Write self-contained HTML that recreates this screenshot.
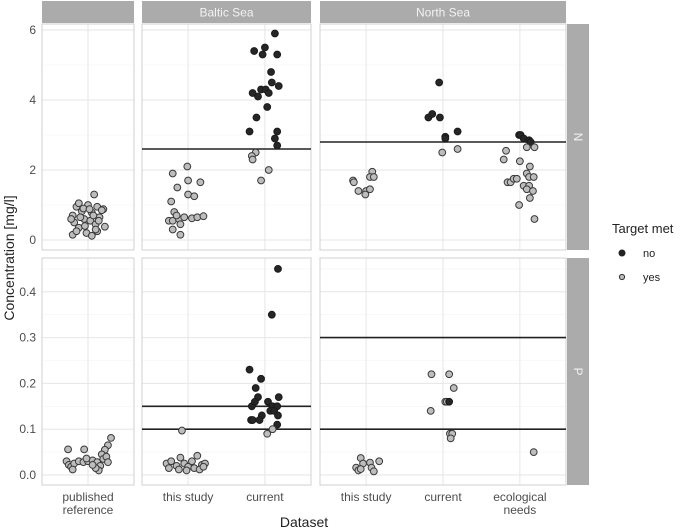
<!DOCTYPE html>
<html><head><meta charset="utf-8"><style>
body{margin:0;background:#fff;}
svg{display:block;font-family:"Liberation Sans",sans-serif;}
</style></head><body>
<svg id="chart" width="685" height="532" viewBox="0 0 685 532" xmlns="http://www.w3.org/2000/svg">
<rect width="685" height="532" fill="#fff"/>
<g id="panels"></g>
<g id="points"></g>
<text transform="translate(14,258) rotate(-90)" text-anchor="middle" font-size="14" fill="#222">Concentration [mg/l]</text>
<text x="304" y="527" text-anchor="middle" font-size="14" fill="#222">Dataset</text>
<g>
<text x="612" y="233" font-size="13" fill="#222">Target met</text>
<circle cx="622" cy="253" r="3" fill="#222" stroke="#222"/>
<text x="643" y="257" font-size="11" fill="#222">no</text>
<circle cx="622" cy="277" r="2.6" fill="#bbb" stroke="#333"/>
<text x="643" y="281" font-size="11" fill="#222">yes</text>
</g>
</svg>
<script>
// ---- data ----
const columns = ["", "Baltic Sea", "North Sea"];
const categories = [["published\nreference"], ["this study","current"], ["this study","current","ecological\nneeds"]];
const nTicks = [0,2,4,6];
const pTicks = [0,0.1,0.2,0.3,0.4];
const nTickLabels = ["0","2","4","6"];
const pTickLabels = ["0.0","0.1","0.2","0.3","0.4"];
const nTargets = [[], [2.6], [2.8]];
const pTargets = [[], [0.15,0.10], [0.30,0.10]];
// points: [column, category index, jitter (category units), value, met(1=no/black,0=yes)]
const nPoints = [
[0,0,0.08,1.3,0],[0,0,-0.15,0.95,0],[0,0,-0.12,1.05,0],[0,0,0.0,1.0,0],[0,0,0.12,0.95,0],[0,0,0.2,0.88,0],
[0,0,-0.2,0.7,0],[0,0,-0.08,0.82,0],[0,0,0.05,0.78,0],[0,0,0.15,0.65,0],[0,0,-0.18,0.5,0],[0,0,-0.05,0.6,0],
[0,0,0.03,0.55,0],[0,0,0.1,0.45,0],[0,0,-0.12,0.35,0],[0,0,-0.2,0.15,0],[0,0,-0.02,0.2,0],[0,0,0.12,0.25,0],
[0,0,0.22,0.38,0],[0,0,-0.1,0.65,0],[0,0,0.07,0.7,0],[0,0,-0.15,0.25,0],[0,0,0.05,0.12,0],[0,0,0.18,0.85,0],
[0,0,-0.06,0.9,0],[0,0,0.02,0.88,0],[0,0,0.14,0.55,0],[0,0,-0.22,0.6,0],[0,0,0.1,0.3,0],[0,0,-0.04,0.4,0],
[1,0,-0.2,1.9,0],[1,0,-0.01,2.1,0],[1,0,-0.14,1.5,0],[1,0,0.0,1.7,0],[1,0,0.16,1.65,0],[1,0,0.0,1.3,0],[1,0,0.08,1.25,0],
[1,0,-0.22,1.1,0],[1,0,-0.18,0.8,0],[1,0,-0.25,0.55,0],[1,0,-0.2,0.55,0],[1,0,-0.12,0.6,0],[1,0,-0.05,0.65,0],
[1,0,0.05,0.62,0],[1,0,0.12,0.65,0],[1,0,0.2,0.68,0],[1,0,-0.15,0.7,0],[1,0,-0.1,0.15,0],[1,0,-0.2,0.3,0],[1,0,-0.1,0.45,0],
[1,1,0.13,5.9,1],[1,1,-0.14,5.4,1],[1,1,0.0,5.5,1],[1,1,-0.03,5.3,1],[1,1,0.16,5.3,1],[1,1,0.08,4.8,1],[1,1,0.09,4.5,1],
[1,1,0.18,4.4,1],[1,1,-0.16,4.2,1],[1,1,-0.09,4.1,1],[1,1,-0.05,4.3,1],[1,1,0.01,4.3,1],[1,1,0.05,4.2,1],[1,1,0.03,3.8,1],
[1,1,-0.11,3.5,1],[1,1,-0.2,3.1,1],[1,1,0.16,3.1,1],[1,1,0.13,2.9,1],[1,1,0.16,2.7,1],
[1,1,-0.12,2.5,0],[1,1,-0.17,2.4,0],[1,1,-0.16,2.3,0],[1,1,0.05,2.0,0],[1,1,-0.05,1.7,0],
[2,0,-0.17,1.7,0],[2,0,-0.16,1.65,0],[2,0,0.08,1.95,0],[2,0,0.05,1.8,0],[2,0,0.1,1.8,0],[2,0,-0.1,1.4,0],[2,0,0.0,1.4,0],[2,0,0.05,1.45,0],[2,0,-0.01,1.3,0],
[2,1,-0.05,4.5,1],[2,1,-0.19,3.5,1],[2,1,-0.14,3.6,1],[2,1,-0.04,3.5,1],[2,1,0.03,2.95,1],[2,1,0.03,2.9,1],[2,1,0.19,3.1,1],
[2,1,-0.01,2.5,0],[2,1,0.19,2.6,0],
[2,2,-0.01,3.0,1],[2,2,0.01,3.0,1],[2,2,0.05,2.9,1],[2,2,0.12,2.85,1],[2,2,0.14,2.8,1],
[2,2,0.09,2.65,0],[2,2,0.19,2.65,0],[2,2,-0.18,2.55,0],[2,2,-0.21,2.3,0],[2,2,0.0,2.25,0],[2,2,0.13,2.1,0],[2,2,0.09,1.9,0],
[2,2,0.12,1.8,0],[2,2,0.18,1.8,0],[2,2,-0.16,1.65,0],[2,2,-0.12,1.65,0],[2,2,-0.08,1.75,0],[2,2,-0.04,1.75,0],
[2,2,0.05,1.55,0],[2,2,0.12,1.55,0],[2,2,0.09,1.45,0],[2,2,0.17,1.4,0],[2,2,0.13,1.2,0],[2,2,-0.01,1.0,0],[2,2,0.19,0.6,0]
];
const pPoints = [
[0,0,-0.26,0.056,0],[0,0,-0.05,0.056,0],[0,0,0.3,0.081,0],[0,0,0.26,0.065,0],[0,0,0.22,0.055,0],[0,0,0.18,0.045,0],
[0,0,-0.28,0.03,0],[0,0,-0.25,0.022,0],[0,0,-0.22,0.018,0],[0,0,-0.18,0.025,0],[0,0,-0.12,0.03,0],[0,0,-0.06,0.028,0],
[0,0,0.0,0.03,0],[0,0,0.06,0.032,0],[0,0,0.12,0.028,0],[0,0,0.16,0.02,0],[0,0,0.2,0.035,0],[0,0,0.24,0.04,0],
[0,0,0.14,0.01,0],[0,0,0.1,0.015,0],[0,0,-0.2,0.012,0],[0,0,0.06,0.022,0],[0,0,-0.02,0.036,0],[0,0,0.26,0.028,0],
[1,0,-0.08,0.097,0],[1,0,-0.28,0.025,0],[1,0,-0.22,0.03,0],[1,0,-0.15,0.02,0],[1,0,-0.1,0.038,0],[1,0,-0.05,0.025,0],
[1,0,0.0,0.018,0],[1,0,0.05,0.03,0],[1,0,0.12,0.042,0],[1,0,0.18,0.022,0],[1,0,0.22,0.025,0],[1,0,-0.25,0.015,0],
[1,0,-0.12,0.012,0],[1,0,-0.02,0.01,0],[1,0,0.08,0.015,0],[1,0,0.15,0.012,0],[1,0,0.2,0.018,0],
[1,1,0.17,0.45,1],[1,1,0.09,0.35,1],[1,1,-0.2,0.23,1],[1,1,-0.05,0.21,1],[1,1,-0.12,0.19,1],[1,1,-0.09,0.17,1],[1,1,0.18,0.17,1],
[1,1,-0.17,0.15,1],[1,1,-0.13,0.16,1],[1,1,0.04,0.16,1],[1,1,0.1,0.15,1],[1,1,0.16,0.15,1],[1,1,0.07,0.14,1],[1,1,0.12,0.14,1],
[1,1,-0.04,0.13,1],[1,1,0.17,0.13,1],[1,1,-0.18,0.12,1],[1,1,-0.16,0.12,1],[1,1,-0.07,0.12,1],[1,1,0.16,0.11,1],
[1,1,0.03,0.09,0],[1,1,0.1,0.10,0],
[2,0,-0.07,0.037,0],[2,0,-0.04,0.025,0],[2,0,0.05,0.027,0],[2,0,0.17,0.03,0],[2,0,-0.13,0.016,0],[2,0,-0.1,0.01,0],
[2,0,-0.07,0.013,0],[2,0,0.07,0.016,0],[2,0,0.1,0.008,0],
[2,1,-0.15,0.22,0],[2,1,0.08,0.22,0],[2,1,0.14,0.19,0],[2,1,0.03,0.16,0],[2,1,0.05,0.16,0],[2,1,0.08,0.16,1],
[2,1,-0.16,0.14,0],[2,1,0.09,0.09,0],[2,1,0.12,0.09,0],[2,1,0.1,0.08,0],
[2,2,0.18,0.05,0]
];
// ---- layout ----
const NS="http://www.w3.org/2000/svg";
const colX=[[42,134],[142,311],[320,566]];
const rows=[{y0:24,y1:250,scale:v=>240-v*35,ticks:nTicks,labels:nTickLabels,minor:[1,3,5],targets:nTargets,pts:nPoints,strip:"N",name:"n"},
            {y0:258,y1:485,scale:v=>475-v*458,ticks:pTicks,labels:pTickLabels,minor:[0.05,0.15,0.25,0.35,0.45],targets:pTargets,pts:pPoints,strip:"P",name:"p"}];
function xPos(c,i,j){const [a,b]=colX[c];const n=categories[c].length;const u=(b-a)/(n+0.2);return a+(0.6+i+j)*u;}
function mk(tag,attrs,parent){const e=document.createElementNS(NS,tag);for(const k in attrs)e.setAttribute(k,attrs[k]);parent.appendChild(e);return e;}
const gp=document.getElementById('panels'),gpts=document.getElementById('points');
columns.forEach((t,c)=>{
  const [a,b]=colX[c];
  const s=mk('rect',{x:a,y:1,width:b-a,height:22,fill:'#ababab'},gp);
  
  
  if(t){const tx=mk('text',{x:(a+b)/2,y:16.5,'text-anchor':'middle','font-size':12,fill:'#f2f2f2'},gp);tx.textContent=t;
    
    }
});
rows.forEach((r,ri)=>{
  const rs=mk('rect',{x:567,y:r.y0,width:22,height:r.y1-r.y0,fill:'#ababab'},gp);
  
  
  const rt=mk('text',{x:0,y:0,transform:`translate(574,${(r.y0+r.y1)/2}) rotate(90)`,'text-anchor':'middle','font-size':12,fill:'#f2f2f2'},gp);
  rt.textContent=r.strip;
  
  
  colX.forEach(([a,b],c)=>{
    const g=mk('g',{},gp);
    
    
    r.minor.forEach(v=>mk('line',{x1:a,x2:b,y1:r.scale(v),y2:r.scale(v),stroke:'#f3f3f3','stroke-width':0.6},g));
    r.ticks.forEach(v=>mk('line',{x1:a,x2:b,y1:r.scale(v),y2:r.scale(v),stroke:'#e6e6e6','stroke-width':1},g));
    categories[c].forEach((_,i)=>mk('line',{x1:xPos(c,i,0),x2:xPos(c,i,0),y1:r.y0,y2:r.y1,stroke:'#e6e6e6','stroke-width':1},g));
    mk('rect',{x:a,y:r.y0,width:b-a,height:r.y1-r.y0,fill:'none',stroke:'#d0d0d0','stroke-width':1},g);
    r.targets[c].forEach(v=>{const l=mk('line',{x1:a,x2:b,y1:r.scale(v),y2:r.scale(v),stroke:'#222','stroke-width':1.6},g);
      
      });
  });
  r.ticks.forEach((v,k)=>{const t=mk('text',{x:36,y:r.scale(v)+4,'text-anchor':'end','font-size':12,fill:'#4d4d4d'},gp);t.textContent=r.labels[k];
    
    });
  r.pts.forEach(p=>{
    const c=mk('circle',{cx:xPos(p[0],p[1],p[2]),cy:r.scale(p[3]),r:3.4,fill:p[4]?'#262626':'#bdbdbd',stroke:p[4]?'#1a1a1a':'#3a3a3a','stroke-width':1},gpts);
    
    
  });
});
categories.forEach((cs,c)=>cs.forEach((lab,i)=>{
  lab.split('\n').forEach((ln,k)=>{const t=mk('text',{x:xPos(c,i,0),y:501+k*13,'text-anchor':'middle','font-size':12,fill:'#4d4d4d'},gp);t.textContent=ln;
    
    });
}));
</script>
</body></html>
